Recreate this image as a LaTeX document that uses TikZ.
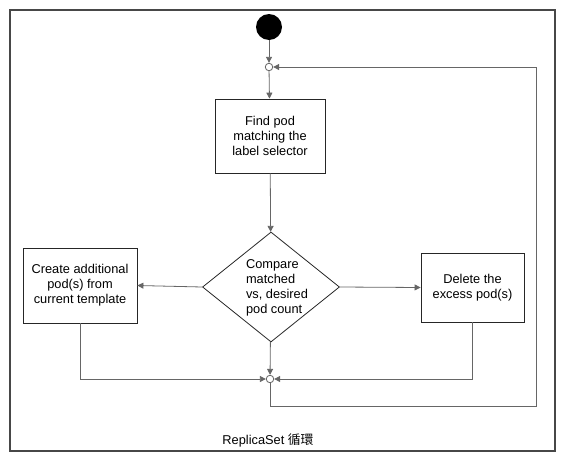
\documentclass[tikz,border=0pt]{standalone}
\usepackage{fontspec}
\setmainfont{Liberation Sans}
\newfontfamily\cjkfont{Noto Sans CJK TC}
\usetikzlibrary{arrows.meta,shapes.geometric}

\begin{document}
\begin{tikzpicture}[
    x=1pt, y=-1pt,
    txt/.style={font=\fontsize{12.8}{15}\selectfont, align=center},
    box/.style={draw=black!85, line width=0.8pt, rectangle, txt},
    decision/.style={draw=black!85, line width=0.8pt, diamond, minimum width=137pt, minimum height=110pt, inner sep=0pt},
    junc/.style={draw=black!60, fill=white, line width=0.8pt, circle, minimum size=7.5pt, inner sep=0pt},
    arr/.style={-{Triangle[length=6pt,width=6pt]}, draw=black!60, line width=0.8pt}
]
    \useasboundingbox (0,0) rectangle (568,461);
    \draw[black!72, line width=1.8pt] (10,10) rectangle (555,451);

    \node[circle, fill=black, minimum size=26pt, inner sep=0pt] (start) at (269,27) {};
    \node[junc] (j1) at (269,67) {};
    \node[box, minimum width=110pt, minimum height=74pt] (find) at (270,136) {Find pod\\matching the\\label selector};
    \node[decision] (cmp) at (271,287) {};
    \node[txt, align=left] (cmptext) at (277,288) {Compare\\matched\\vs, desired\\pod count};
    \node[box, minimum width=114pt, minimum height=75pt] (create) at (80,285.5) {Create additional\\pod(s) from\\current template};
    \node[box, minimum width=103pt, minimum height=69pt] (delete) at (472.5,287.5) {Delete the\\excess pod(s)};
    \node[junc] (j2) at (270,379) {};
    \coordinate (loop) at (536,406);
    \node[txt] (title) at (268,440) {ReplicaSet {\cjkfont 循環}};

    \draw[arr] (start) -- (j1);
    \draw[arr] (j1) -- (find);
    \draw[arr] (find) -- (cmp);
    \draw[arr] (cmp.west) -- (create.east);
    \draw[arr] (cmp.east) -- (delete.west);
    \draw[arr] (cmp) -- (j2);
    \draw[arr] (create) |- (j2);
    \draw[arr] (delete) |- (j2);
    \draw[arr] (j2) |- (loop) |- (j1);
\end{tikzpicture}
\end{document}
